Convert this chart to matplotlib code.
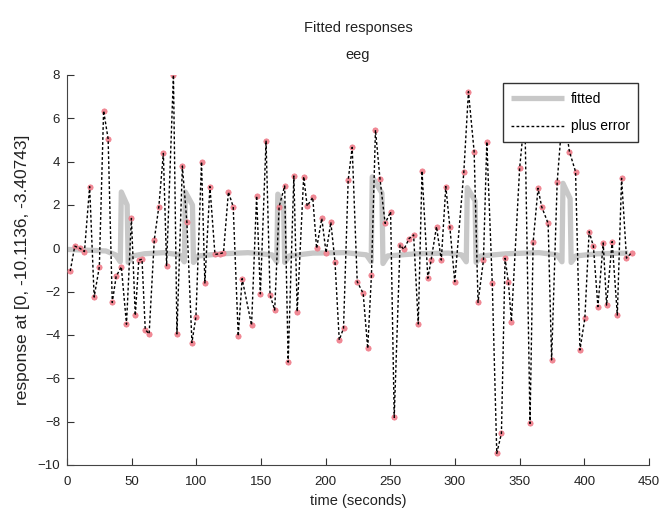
import matplotlib
matplotlib.use("Agg")
import matplotlib.pyplot as plt

plt.rcParams['font.family'] = ['Liberation Sans', 'DejaVu Sans']

# scan times (s) and observed response (fitted + error)
scan_t = [2.5, 6, 10, 13.5, 17.5, 21, 25, 28.3, 31.8, 35, 38, 42, 46, 49.8,
          52.8, 55.5, 58, 60.5, 63.5, 67.5, 71, 74.5, 77, 82.3, 85, 89.2,
          92.7, 96.6, 99.7, 104, 106.6, 110.5, 114.4, 118, 121, 124.8, 128.5,
          132.4, 135.4, 142.7, 146.6, 149.5, 153.9, 157, 160.6, 164, 168.3,
          171, 175.4, 178, 183, 185.7, 190, 193, 197, 200.3, 204, 207.2,
          210.5, 213.8, 217.4, 220.5, 224.4, 229, 232.5, 235.4, 238.5, 242,
          246, 250.2, 253, 257.5, 260.5, 264.5, 268, 271.6, 274.5, 279, 281.6,
          285.7, 289.4, 292.9, 296, 299.8, 306.8, 310.4, 314.8, 317.8, 322,
          324.6, 328.8, 332.3, 335.9, 338.7, 341.3, 343.6, 350, 354, 358,
          360.4, 364.2, 367, 372, 374.7, 379, 383.5, 388.5, 393.2, 396.6,
          400.4, 403.7, 407, 410.5, 414.6, 417.2, 421.5, 425.5, 428.8, 432.6,
          436.5]
plus_error = [-1.05, 0.1, 0.0, -0.15, 2.85, -2.25, -0.85, 6.35, 5.05, -2.5,
              -1.3, -0.85, -3.5, 1.38, -3.1, -0.55, -0.5, -3.75, -3.95, 0.4,
              1.92, 4.38, -0.8, 8.0, -3.95, 3.8, 1.2, -4.35, -3.15, 4.0, -1.6,
              2.85, -0.28, -0.25, -0.2, 2.6, 1.92, -4.05, -1.4, -3.55, 2.42,
              -2.1, 4.97, -2.15, -2.85, 1.92, 2.88, -5.25, 3.34, -2.92, 3.31,
              1.95, 2.35, 0.0, 1.38, -0.2, 1.2, -0.62, -4.23, -3.69, 3.15,
              4.66, -1.54, -2.08, -4.62, -1.23, 5.46, 3.2, 1.15, 1.69, -7.8,
              0.15, -0.05, 0.45, 0.62, -3.49, 3.57, -1.38, -0.52, 1.0, -0.54,
              2.85, 1.0, -1.54, 3.5, 7.23, 4.46, -2.49, -0.55, 4.92, -1.58,
              -9.46, -8.54, -0.46, -1.57, -3.38, 3.72, 6.2, -8.08, 0.27, 2.77,
              1.92, 1.15, -5.15, 3.05, 6.5, 4.46, 3.54, -4.69, -3.23, 0.77,
              0.1, -2.69, 0.25, -2.62, 0.31, -3.08, 3.23, -0.45, -0.2]

# fitted response, vertices
fit_t = [0, 30, 37.5, 41.2, 42, 46.5, 47.3, 51, 60, 75, 87, 90.7, 91.5,
         97, 97.8, 101.5, 120, 140, 158.5, 162.2, 163, 167.5, 168.3, 172,
         190, 215, 231.5, 235.2, 236, 243.5, 244.3, 248, 270, 295, 305,
         308.7, 309.5, 315.5, 316.3, 320, 340, 365, 379, 382.7, 383.5, 389,
         389.8, 393.5, 410, 434]
fitted = [-0.05, -0.12, -0.3, -0.62, 2.6, 2.0, -0.65, -0.35, -0.25, -0.2,
          -0.3, -0.62, 2.6, 2.0, -0.65, -0.35, -0.25, -0.2, -0.3, -0.62, 2.5,
          1.95, -0.65, -0.35, -0.22, -0.2, -0.3, -0.62, 3.3, 2.55, -0.7,
          -0.35, -0.25, -0.22, -0.3, -0.62, 2.8, 2.2, -0.65, -0.35, -0.25,
          -0.2, -0.3, -0.62, 3.0, 2.3, -0.65, -0.35, -0.25, -0.22]

fig = plt.figure(figsize=(6.68, 5.18), dpi=100)
ax = fig.add_axes([67 / 668, 53 / 518, 582 / 668, 390 / 518])

ax.plot(fit_t, fitted, color='#c8c8c8', lw=3.8, solid_joinstyle='round',
        solid_capstyle='butt', label='fitted', zorder=2)
ax.plot(scan_t, plus_error, 'o', color='#f08a96', ms=3.8, mec='#f07a88',
        mew=0.5, zorder=3)
ax.plot(scan_t, plus_error, color='black', lw=1.0, dashes=(2.0, 1.6),
        label='plus error', zorder=4)

ax.set_xlim(0, 450)
ax.set_ylim(-10, 8)
ax.set_xticks(range(0, 451, 50))
ax.set_yticks(range(-10, 9, 2))
ax.spines['top'].set_visible(False)
ax.spines['right'].set_visible(False)
ax.spines['left'].set_color('#444444')
ax.spines['bottom'].set_color('#444444')
ax.tick_params(direction='in', length=5, width=0.8, colors='#333333',
               labelsize=9.5, labelcolor='#222222')
ax.tick_params(axis='x', pad=8)
ax.tick_params(axis='y', pad=5)

ax.set_xlabel('time (seconds)', fontsize=10.5, color='#222222', labelpad=4)
ax.set_ylabel('response at [0, -10.1136, -3.40743]', fontsize=12.5,
              color='#222222', labelpad=5)

fig.text(0.536, 1 - 28 / 518, 'Fitted responses', ha='center', va='center',
         fontsize=10.5, color='#222222')
fig.text(0.536, 1 - 55 / 518, 'eeg', ha='center', va='center',
         fontsize=10.5, color='#222222')

leg = ax.legend(loc='upper right', bbox_to_anchor=(0.981, 0.979),
                fontsize=10, frameon=True, fancybox=False, framealpha=1,
                edgecolor='#333333', handlelength=3.8, labelspacing=1.0,
                borderpad=0.6, handletextpad=0.5, borderaxespad=0)
leg.get_frame().set_linewidth(1.0)
leg.set_zorder(10)

fig.savefig('out.png', dpi=100)
